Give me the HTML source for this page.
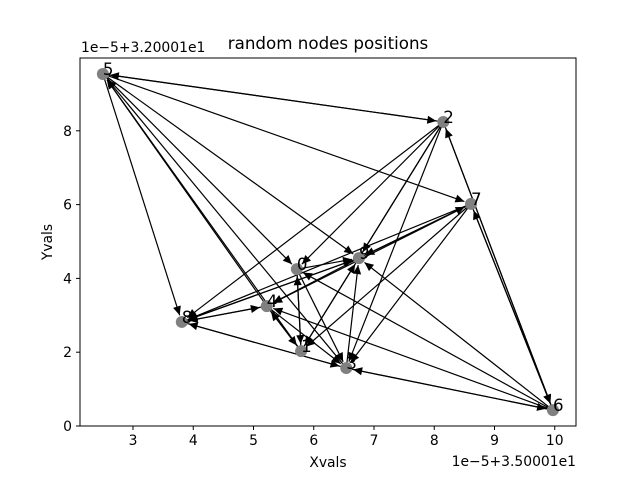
<!DOCTYPE html>
<html><head><meta charset="utf-8"><style>
body{margin:0;background:#fff;}
svg{display:block;font-family:"DejaVu Sans","Liberation Sans",sans-serif;}
</style></head><body>
<svg width="640" height="480" viewBox="0 0 640 480">
<defs><marker id="ah" viewBox="0 0 10 10" refX="10" refY="5" markerUnits="userSpaceOnUse" markerWidth="11" markerHeight="9" orient="auto"><path d="M0,0.5 L10,5 L0,9.5 z" fill="#000"/></marker></defs>
<rect x="0" y="0" width="640" height="480" fill="#fff"/>
<text x="328" y="49" font-size="16.7" text-anchor="middle">random nodes positions</text>
<g id="edges"></g>
<g id="nodes"></g>
<rect x="80" y="58" width="496" height="368" fill="none" stroke="#000" stroke-width="1"/>
<g id="xt"></g><g id="yt"></g>
<text x="81" y="52" font-size="13.9">1e−5+3.20001e1</text>
<text x="576" y="466" font-size="13.9" text-anchor="end">1e−5+3.50001e1</text>
<text x="328" y="467" font-size="13.9" text-anchor="middle">Xvals</text>
<text x="52" y="242" font-size="13.9" text-anchor="middle" transform="rotate(-90 52 242)">Yvals</text>
</svg>
<script>
const nodeIds=[0,1,2,3,4,5,6,7,8,9];
const nodeX=[5.72,5.79,8.15,6.54,5.22,2.50,9.97,8.61,3.81,6.75];
const nodeY=[4.25,2.03,8.24,1.57,3.25,9.54,0.43,6.02,2.82,4.55];
const edgeFrom=[5,2,5,5,5,5,4,1,3,2,2,2,2,2,6,2,7,7,7,7,7,9,6,7,0,9,9,4,8,1,4,3,8,6,3,6,6,6,0,1,3,1,8,0,4];
const edgeTo  =[2,5,7,9,0,8,5,5,5,8,0,9,3,1,2,6,8,4,9,1,3,7,7,6,9,8,4,8,4,4,1,8,3,3,6,0,9,4,3,0,9,9,9,1,3];
const xTicks=[3,4,5,6,7,8,9,10];
const yTicks=[0,2,4,6,8];
const sx=v=>-47.75+v*60.25, sy=v=>426-v*36.9;
const NS="http://www.w3.org/2000/svg";
const E=document.getElementById('edges'),N=document.getElementById('nodes');
for(let i=0;i<edgeFrom.length;i++){
 const a=edgeFrom[i],b=edgeTo[i];
 const x1=sx(nodeX[a]),y1=sy(nodeY[a]),x2=sx(nodeX[b]),y2=sy(nodeY[b]);
 const d=Math.hypot(x2-x1,y2-y1),ux=(x2-x1)/d,uy=(y2-y1)/d;
 const l=document.createElementNS(NS,'line');
 
 
 l.setAttribute('x1',x1);l.setAttribute('y1',y1);
 l.setAttribute('x2',x2-ux*7);l.setAttribute('y2',y2-uy*7);
 l.setAttribute('stroke','#000');l.setAttribute('stroke-width','1.2');
 l.setAttribute('marker-end','url(#ah)');
 E.appendChild(l);
}
nodeIds.forEach((id,i)=>{
 const c=document.createElementNS(NS,'circle');
 
 
 c.setAttribute('cx',sx(nodeX[i]));c.setAttribute('cy',sy(nodeY[i]));c.setAttribute('r',6);c.setAttribute('fill','#808080');
 N.appendChild(c);
 const t=document.createElementNS(NS,'text');
 
 
 t.setAttribute('x',sx(nodeX[i]));t.setAttribute('y',sy(nodeY[i])+1);t.setAttribute('font-size','16.7');
 t.textContent=id;N.appendChild(t);
});
const XT=document.getElementById('xt'),YT=document.getElementById('yt');
xTicks.forEach(v=>{
 const x=sx(v);
 const l=document.createElementNS(NS,'line');
 
 
 l.setAttribute('x1',x);l.setAttribute('x2',x);l.setAttribute('y1',426);l.setAttribute('y2',430);l.setAttribute('stroke','#000');XT.appendChild(l);
 const t=document.createElementNS(NS,'text');
 
 
 t.setAttribute('x',x);t.setAttribute('y',445);t.setAttribute('font-size','13.9');t.setAttribute('text-anchor','middle');t.textContent=v;XT.appendChild(t);
});
yTicks.forEach(v=>{
 const y=sy(v);
 const l=document.createElementNS(NS,'line');
 
 
 l.setAttribute('x1',76);l.setAttribute('x2',80);l.setAttribute('y1',y);l.setAttribute('y2',y);l.setAttribute('stroke','#000');YT.appendChild(l);
 const t=document.createElementNS(NS,'text');
 
 
 t.setAttribute('x',72);t.setAttribute('y',y+5);t.setAttribute('font-size','13.9');t.setAttribute('text-anchor','end');t.textContent=v;YT.appendChild(t);
});
</script>
</body></html>
